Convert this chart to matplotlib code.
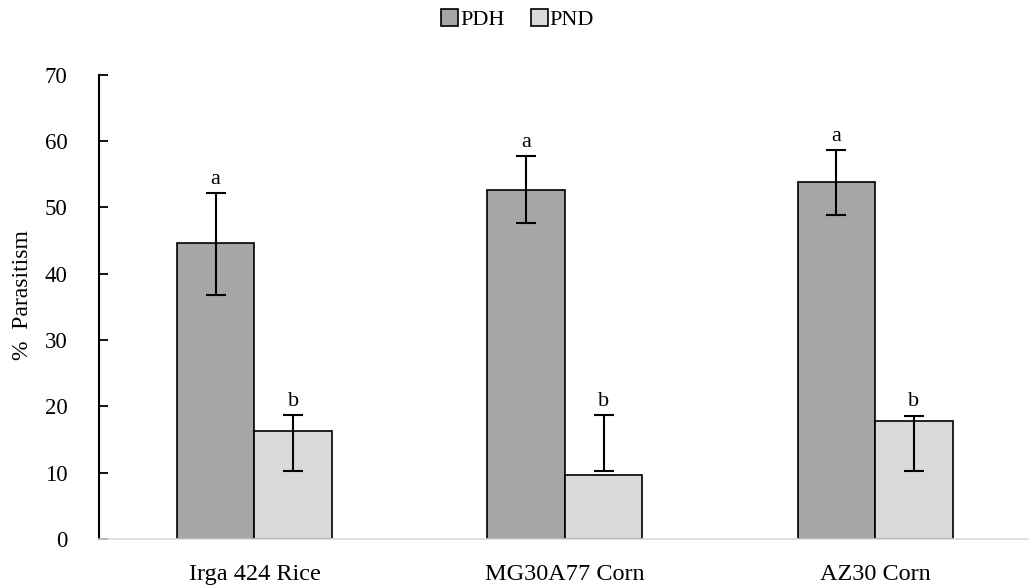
import numpy as np
import matplotlib.pyplot as plt

# values
hosts = ["Irga 424 Rice", "MG30A77 Corn", "AZ30 Corn"]
pdh = [44.6, 52.6, 53.8]
pnd = [16.3, 9.6, 17.8]
# error bar ends (low, high) as drawn in the original
pdh_lo = [36.8, 47.7, 48.9]
pdh_hi = [52.2, 57.7, 58.6]
pnd_lo = [10.3, 10.3, 10.2]
pnd_hi = [18.7, 18.7, 18.6]
pdh_letters = ["a", "a", "a"]
pnd_letters = ["b", "b", "b"]

plt.rcParams['font.family'] = ['Liberation Serif', 'DejaVu Serif']

fig = plt.figure(figsize=(10.29, 5.86), dpi=100)
ax = fig.add_axes([0.0965, 0.0802, 0.9048, 0.7923])

x = np.arange(len(hosts))
w = 0.25
ax.bar(x - w/2, pdh, w, color="#a6a6a6", edgecolor="black", linewidth=1.2, label="PDH", zorder=2)
ax.bar(x + w/2, pnd, w, color="#d9d9d9", edgecolor="black", linewidth=1.2, label="PND", zorder=2)

# error bars from their low/high ends
for xs, lo, hi in [(x - w/2, pdh_lo, pdh_hi), (x + w/2, pnd_lo, pnd_hi)]:
    lo = np.array(lo)
    hi = np.array(hi)
    ax.errorbar(xs, (lo + hi) / 2, yerr=(hi - lo) / 2, fmt="none", ecolor="black",
                elinewidth=1.5, capsize=7, capthick=1.5, zorder=3)

# significance letters
for xs, hi, letters in [(x - w/2, pdh_hi, pdh_letters), (x + w/2, pnd_hi, pnd_letters)]:
    for xi, h, s in zip(xs, hi, letters):
        ax.annotate(s, (xi, h), xytext=(0, 3), textcoords="offset points",
                    ha="center", va="bottom", fontsize=16)

ax.set_xlim(-0.5, 2.5)
ax.set_ylim(0, 70)
ax.set_yticks(range(0, 71, 10))
ax.set_xticks(x)
ax.set_xticklabels(hosts)
ax.tick_params(axis="x", length=0, pad=18, labelsize=17.5)
ax.tick_params(axis="y", direction="in", length=6.5, width=1.3, pad=23, labelsize=16.5)

ax.spines["top"].set_visible(False)
ax.spines["right"].set_visible(False)
ax.spines["left"].set_linewidth(1.5)
ax.spines["bottom"].set_color("#d9d9d9")
ax.spines["bottom"].set_linewidth(1.2)

ax.set_ylabel("%  Parasitism", fontsize=17)
ax.yaxis.set_label_coords(-0.071, 0.525)

fig.legend(loc="center", bbox_to_anchor=(0.503, 0.966), ncol=2, frameon=False,
           fontsize=16, handlelength=0.75, handleheight=0.75, handletextpad=0.1,
           columnspacing=1.2)

fig.savefig("out.png", dpi=100)
